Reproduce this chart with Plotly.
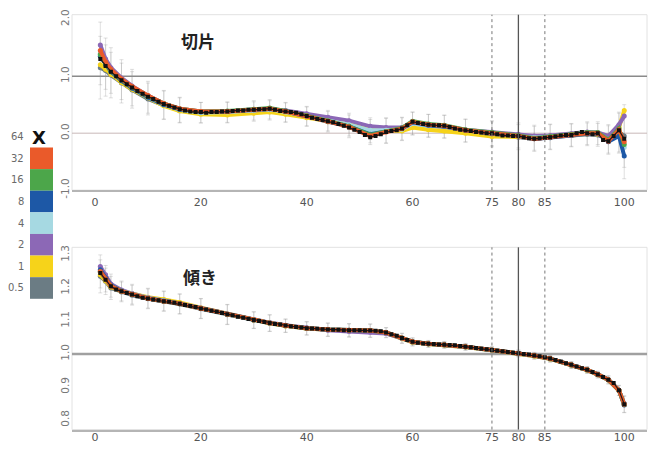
import plotly.graph_objects as go

W, H = 654, 456

# ---------------- data ----------------
X_ALL = list(range(1, 101))

TOP_BLACK = [1.30, 1.18, 1.08, 1.00, 0.93, 0.86, 0.80, 0.74, 0.69, 0.64,
             0.60, 0.55, 0.51, 0.48, 0.45, 0.42, 0.40, 0.38, 0.37, 0.37,
             0.36, 0.37, 0.37, 0.38, 0.38, 0.39, 0.40, 0.40, 0.41, 0.41,
             0.42, 0.42, 0.43, 0.41, 0.39, 0.38, 0.37, 0.36, 0.33, 0.30,
             0.27, 0.25, 0.23, 0.21, 0.19, 0.16, 0.13, 0.10, 0.06, 0.02,
             -0.03, -0.07, -0.05, -0.02, 0.02, 0.04, 0.05, 0.08, 0.14, 0.20,
             0.18, 0.16, 0.15, 0.14, 0.14, 0.13, 0.11, 0.08, 0.06, 0.05,
             0.04, 0.02, 0.01, 0.00, 0.00, -0.02, -0.04, -0.04, -0.05, -0.05,
             -0.07, -0.09, -0.10, -0.09, -0.08, -0.07, -0.06, -0.04, -0.03, -0.03,
             0.00, 0.02, 0.00, -0.02, 0.00, -0.12, -0.14, -0.05, 0.05, -0.10]

BOT_BLACK = [1.245, 1.225, 1.205, 1.195, 1.190, 1.185, 1.180, 1.175, 1.170, 1.168,
             1.165, 1.163, 1.160, 1.158, 1.155, 1.152, 1.148, 1.145, 1.142, 1.138,
             1.135, 1.131, 1.128, 1.124, 1.120, 1.117, 1.113, 1.110, 1.106, 1.103,
             1.100, 1.097, 1.094, 1.091, 1.089, 1.086, 1.084, 1.082, 1.080, 1.078,
             1.077, 1.076, 1.075, 1.074, 1.073, 1.073, 1.072, 1.072, 1.072, 1.072,
             1.071, 1.071, 1.070, 1.069, 1.065, 1.060, 1.055, 1.048, 1.042, 1.037,
             1.034, 1.032, 1.031, 1.030, 1.029, 1.028, 1.027, 1.026, 1.024, 1.022,
             1.020, 1.018, 1.016, 1.014, 1.012, 1.010, 1.008, 1.006, 1.004, 1.002,
             1.000, 0.998, 0.995, 0.993, 0.990, 0.986, 0.982, 0.977, 0.972, 0.967,
             0.962, 0.957, 0.952, 0.945, 0.938, 0.930, 0.922, 0.912, 0.890, 0.848]

X_C = [1, 2, 3, 5, 7, 10, 13, 16, 20, 25, 30, 33, 36, 40, 44, 48, 52, 55, 58, 60,
       63, 66, 70, 75, 80, 83, 86, 90, 93, 95, 97, 99, 100]

TOP_05 = [1.15, 1.10, 1.02, 0.88, 0.76, 0.60, 0.49, 0.40, 0.36, 0.36, 0.38, 0.40, 0.36, 0.29, 0.20, 0.12, 0.02,
          0.04, 0.08, 0.17, 0.13, 0.11, 0.04, -0.02, -0.07, -0.10, -0.07, -0.04, -0.02, -0.03, -0.10, 0.02, -0.05]
TOP_1 = [1.20, 1.12, 1.03, 0.89, 0.77, 0.62, 0.48, 0.39, 0.33, 0.32, 0.35, 0.37, 0.33, 0.27, 0.20, 0.14, 0.08,
         0.05, 0.04, 0.10, 0.06, 0.04, 0.00, -0.06, -0.06, -0.07, -0.05, -0.04, -0.01, -0.02, -0.05, 0.10, 0.40]
TOP_2 = [1.55, 1.30, 1.15, 0.97, 0.83, 0.66, 0.52, 0.43, 0.38, 0.38, 0.40, 0.42, 0.40, 0.34, 0.28, 0.22, 0.12,
         0.10, 0.10, 0.18, 0.14, 0.12, 0.06, 0.02, -0.02, -0.05, -0.04, -0.01, 0.02, 0.01, -0.05, 0.15, 0.30]
TOP_4 = [1.40, 1.22, 1.10, 0.94, 0.80, 0.63, 0.50, 0.41, 0.36, 0.37, 0.40, 0.42, 0.37, 0.30, 0.22, 0.15, 0.05,
         0.05, 0.07, 0.17, 0.13, 0.12, 0.05, 0.00, -0.04, -0.08, -0.06, -0.03, 0.00, 0.00, -0.12, 0.00, -0.25]
TOP_8 = [1.35, 1.20, 1.08, 0.92, 0.79, 0.63, 0.50, 0.42, 0.37, 0.38, 0.41, 0.43, 0.38, 0.30, 0.21, 0.12, -0.02,
         0.03, 0.08, 0.19, 0.14, 0.12, 0.05, -0.01, -0.05, -0.10, -0.08, -0.04, -0.01, -0.01, -0.15, -0.05, -0.40]
TOP_16 = [1.38, 1.22, 1.10, 0.94, 0.81, 0.65, 0.52, 0.43, 0.38, 0.39, 0.42, 0.44, 0.39, 0.31, 0.22, 0.12, -0.03,
          0.03, 0.09, 0.21, 0.16, 0.14, 0.06, 0.01, -0.04, -0.09, -0.06, -0.02, 0.01, 0.01, -0.12, 0.08, -0.20]
TOP_32 = [1.45, 1.25, 1.12, 0.95, 0.82, 0.66, 0.52, 0.43, 0.38, 0.38, 0.41, 0.43, 0.38, 0.30, 0.21, 0.11, -0.05,
          0.02, 0.08, 0.20, 0.15, 0.13, 0.05, 0.00, -0.05, -0.10, -0.07, -0.03, 0.00, 0.00, -0.14, 0.06, -0.15]

BOT_05 = [1.235, 1.220, 1.200, 1.188, 1.178, 1.167, 1.159, 1.151, 1.137, 1.119, 1.102, 1.093, 1.085, 1.077, 1.073, 1.071, 1.070,
          1.064, 1.047, 1.036, 1.030, 1.027, 1.021, 1.011, 1.001, 0.994, 0.985, 0.966, 0.951, 0.937, 0.921, 0.889, 0.847]
BOT_1 = [1.240, 1.222, 1.203, 1.190, 1.182, 1.172, 1.165, 1.156, 1.140, 1.121, 1.103, 1.093, 1.085, 1.077, 1.073, 1.071, 1.069,
         1.063, 1.046, 1.035, 1.030, 1.027, 1.021, 1.011, 1.001, 0.994, 0.985, 0.966, 0.951, 0.937, 0.921, 0.889, 0.846]
BOT_2 = [1.265, 1.240, 1.212, 1.194, 1.183, 1.170, 1.162, 1.153, 1.139, 1.121, 1.104, 1.095, 1.087, 1.079, 1.072, 1.068, 1.066,
         1.062, 1.047, 1.036, 1.031, 1.028, 1.022, 1.012, 1.002, 0.995, 0.986, 0.967, 0.952, 0.938, 0.922, 0.890, 0.850]
BOT_4 = [1.250, 1.228, 1.207, 1.191, 1.181, 1.169, 1.161, 1.152, 1.138, 1.120, 1.103, 1.094, 1.086, 1.078, 1.074, 1.072, 1.071,
         1.065, 1.048, 1.037, 1.031, 1.028, 1.022, 1.012, 1.002, 0.995, 0.986, 0.967, 0.952, 0.938, 0.922, 0.890, 0.848]
BOT_8 = [1.255, 1.230, 1.208, 1.191, 1.180, 1.168, 1.160, 1.152, 1.138, 1.120, 1.103, 1.094, 1.086, 1.078, 1.074, 1.072, 1.071,
         1.065, 1.048, 1.037, 1.031, 1.028, 1.022, 1.012, 1.002, 0.995, 0.986, 0.967, 0.952, 0.938, 0.922, 0.890, 0.845]
BOT_16 = [1.248, 1.226, 1.206, 1.190, 1.180, 1.168, 1.160, 1.152, 1.138, 1.120, 1.103, 1.094, 1.086, 1.078, 1.074, 1.072, 1.071,
          1.065, 1.048, 1.037, 1.031, 1.028, 1.022, 1.012, 1.002, 0.995, 0.986, 0.967, 0.952, 0.938, 0.922, 0.890, 0.848]
BOT_32 = [1.250, 1.227, 1.206, 1.190, 1.180, 1.168, 1.160, 1.152, 1.138, 1.120, 1.103, 1.094, 1.086, 1.078, 1.074, 1.072, 1.071,
          1.065, 1.048, 1.037, 1.031, 1.028, 1.022, 1.012, 1.002, 0.995, 0.986, 0.967, 0.952, 0.938, 0.922, 0.890, 0.848]

TOP_ERR = [0.55, 0.45, 0.40, 0.35, 0.32, 0.28, 0.25, 0.22, 0.18, 0.18, 0.17, 0.17, 0.17, 0.17, 0.18, 0.20, 0.22,
           0.22, 0.20, 0.20, 0.20, 0.20, 0.20, 0.22, 0.22, 0.22, 0.22, 0.20, 0.20, 0.20, 0.25, 0.35, 0.55]
BOT_ERR = [0.05, 0.04, 0.035, 0.03, 0.03, 0.03, 0.03, 0.03, 0.03, 0.03, 0.025, 0.025, 0.02, 0.02, 0.02, 0.02, 0.02,
           0.015, 0.015, 0.012, 0.01, 0.01, 0.01, 0.01, 0.01, 0.01, 0.01, 0.01, 0.01, 0.01, 0.012, 0.015, 0.025]

SERIES_LABELS = ["0.5", "1", "2", "4", "8", "16", "32"]
SERIES_COLORS = ["#6b7c84", "#f6d31a", "#8c68b6", "#a6d9e2", "#1d58a6", "#4ca64a", "#ea5a2a"]
TOP_SERIES = [TOP_05, TOP_1, TOP_2, TOP_4, TOP_8, TOP_16, TOP_32]
BOT_SERIES = [BOT_05, BOT_1, BOT_2, BOT_4, BOT_8, BOT_16, BOT_32]
BLACK_LABEL = "64"

X_TICKS = [0, 20, 40, 60, 75, 80, 85, 100]
TOP_YTICKS = [-1.0, 0.0, 1.0, 2.0]
BOT_YTICKS = [0.8, 0.9, 1.0, 1.1, 1.2, 1.3]
V_LINES = [75, 80, 85]
TOP_HLINES = [1.0, 0.0]
BOT_HLINES = [1.0]
PANEL_TITLES = ["切片", "傾き"]

# ---------------- figure ----------------
fig = go.Figure()

def px_x(p):
    return p / W

def px_y(p):
    return 1 - p / H

# error bars (faint)
for xa, ya, series, err in [("x", "y", TOP_SERIES, TOP_ERR), ("x2", "y2", BOT_SERIES, BOT_ERR)]:
    for k in (0, 3):
        fig.add_trace(go.Scatter(
            x=X_C, y=series[k], xaxis=xa, yaxis=ya, mode="markers",
            marker=dict(size=1, color="rgba(0,0,0,0)"),
            error_y=dict(type="data", array=err, color="rgba(150,150,150,0.3)", thickness=1, width=2),
            showlegend=False, hoverinfo="skip"))

# colored series
for xa, ya, series in [("x", "y", TOP_SERIES), ("x2", "y2", BOT_SERIES)]:
    for vals, col, lab in zip(series, SERIES_COLORS, SERIES_LABELS):
        fig.add_trace(go.Scatter(
            x=X_C, y=vals, xaxis=xa, yaxis=ya, mode="lines+markers",
            line=dict(color=col, width=4),
            marker=dict(size=5, color=col),
            name=lab, showlegend=False))

# black series
for xa, ya, vals in [("x", "y", TOP_BLACK), ("x2", "y2", BOT_BLACK)]:
    fig.add_trace(go.Scatter(
        x=X_ALL, y=vals, xaxis=xa, yaxis=ya, mode="lines+markers",
        line=dict(color="#1a1a1a", width=1.2),
        marker=dict(size=4, color="#111111", symbol="square"),
        name=BLACK_LABEL, showlegend=False))

shapes = []
# frames
for yr in ["y domain", "y2 domain"]:
    xr = "x domain" if yr == "y domain" else "x2 domain"
    shapes.append(dict(type="rect", xref=xr, yref=yr, x0=0, x1=1, y0=0, y1=1,
                       line=dict(color="#e2e2e2", width=1), layer="below"))
# horizontal reference lines
for v in TOP_HLINES:
    shapes.append(dict(type="line", xref="x domain", yref="y", x0=0, x1=1, y0=v, y1=v,
                       line=dict(color="#8a8a8a" if v == 1.0 else "#c9b8b8", width=1.6 if v == 1.0 else 1),
                       layer="below"))
for v in BOT_HLINES:
    shapes.append(dict(type="line", xref="x2 domain", yref="y2", x0=0, x1=1, y0=v, y1=v,
                       line=dict(color="#a0a0a0", width=2.5), layer="below"))
# vertical lines
for xr, yr in [("x", "y domain"), ("x2", "y2 domain")]:
    for v in V_LINES:
        shapes.append(dict(type="line", xref=xr, yref=yr, x0=v, x1=v, y0=0, y1=1,
                           line=dict(color="#555555" if v == 80 else "#777777",
                                     width=1.3 if v == 80 else 1,
                                     dash="solid" if v == 80 else "dot")))

# legend (color key on the left)
annotations = []
key_rows = list(reversed(list(zip(SERIES_LABELS, SERIES_COLORS))))  # 32 at top ... 0.5 at bottom
row_top = 147
row_h = 22.3
for i, (lab, col) in enumerate(key_rows):
    y0 = row_top + i * row_h
    shapes.append(dict(type="rect", xref="paper", yref="paper",
                       x0=px_x(30), x1=px_x(53), y0=px_y(y0 + row_h), y1=px_y(y0),
                       fillcolor=col, line=dict(width=0)))
    annotations.append(dict(xref="paper", yref="paper", x=px_x(26), y=px_y(y0 + row_h / 2),
                            text=lab, showarrow=False, xanchor="right", yanchor="middle",
                            font=dict(size=10, color="#6a6a6a", family="DejaVu Sans")))
annotations.append(dict(xref="paper", yref="paper", x=px_x(26), y=px_y(136),
                        text=BLACK_LABEL, showarrow=False, xanchor="right", yanchor="middle",
                        font=dict(size=10, color="#6a6a6a", family="DejaVu Sans")))
annotations.append(dict(xref="paper", yref="paper", x=px_x(39), y=px_y(137),
                        text="<b>X</b>", showarrow=False, xanchor="center", yanchor="middle",
                        font=dict(size=18, color="#111111", family="DejaVu Sans")))

# panel titles
annotations.append(dict(xref="paper", yref="paper", x=px_x(198), y=px_y(37), text="<b>" + PANEL_TITLES[0] + "</b>",
                        showarrow=False, xanchor="center", yanchor="middle",
                        font=dict(size=17, color="#222222", family="Noto Sans CJK JP")))
annotations.append(dict(xref="paper", yref="paper", x=px_x(200), y=px_y(280), text="<b>" + PANEL_TITLES[1] + "</b>",
                        showarrow=False, xanchor="center", yanchor="middle",
                        font=dict(size=17, color="#222222", family="Noto Sans CJK JP")))

xdom = [px_x(72), px_x(647)]
xrng = [-4.35, 104.3]
tickfont = dict(size=11, color="#555555", family="DejaVu Sans")
ytickfont = dict(size=10.5, color="#777777", family="DejaVu Sans")

common_x = dict(range=xrng, domain=xdom, tickvals=X_TICKS, ticktext=[str(t) for t in X_TICKS],
                showgrid=False, zeroline=False, showline=True, linecolor="#b5b5b5", linewidth=2,
                ticks="", tickfont=tickfont)
common_y = dict(showgrid=False, zeroline=False, showline=False, ticks="", tickangle=-90,
                tickfont=ytickfont)

fig.update_layout(
    width=W, height=H,
    margin=dict(l=0, r=0, t=0, b=0),
    paper_bgcolor="white", plot_bgcolor="white",
    showlegend=False,
    xaxis=dict(anchor="y", ticklabelstandoff=1, **common_x),
    yaxis=dict(anchor="x", domain=[px_y(191), px_y(10)], range=[-1.0, 2.08],
               tickvals=TOP_YTICKS, ticktext=["-1.0", "0.0", "1.0", "2.0"], **common_y),
    xaxis2=dict(anchor="y2", ticklabelstandoff=-4, **common_x),
    yaxis2=dict(anchor="x2", domain=[px_y(438), px_y(250)], range=[0.771, 1.323],
                tickvals=BOT_YTICKS, ticktext=["0.8", "0.9", "1.0", "1.1", "1.2", "1.3"], **common_y),
    shapes=shapes,
    annotations=annotations,
)

fig.write_html("out.html", config={"displayModeBar": False},
               post_script="document.body.style.margin='0';document.body.style.overflow='hidden';")
